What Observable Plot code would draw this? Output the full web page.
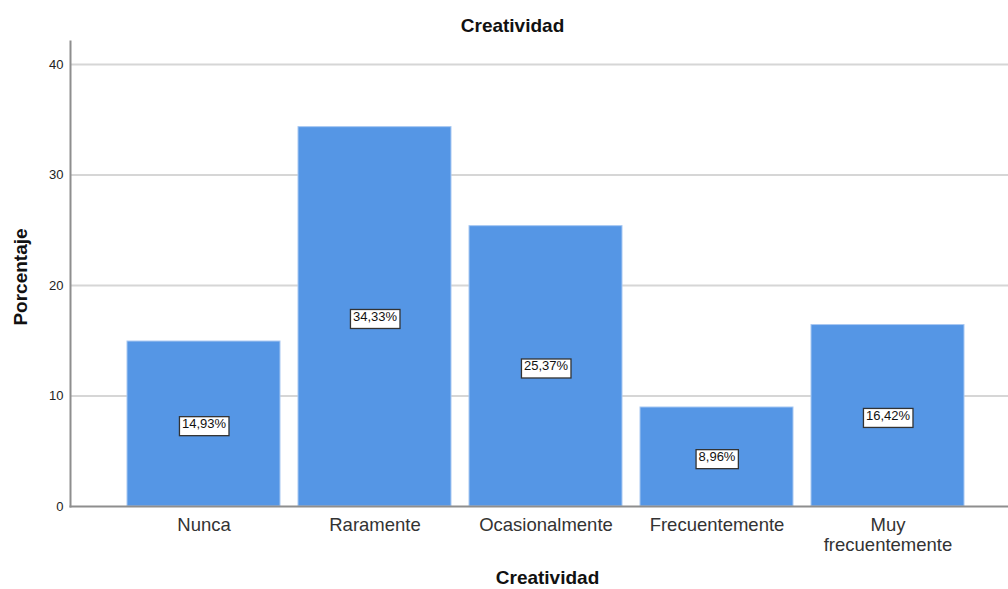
<!DOCTYPE html>
<html>
<head>
<meta charset="utf-8">
<script src="https://cdn.jsdelivr.net/npm/d3@7"></script>
<script src="https://cdn.jsdelivr.net/npm/@observablehq/plot@0.6"></script>
<style>
  html, body { margin: 0; padding: 0; background: #ffffff; }
  #chart svg { display: block; }
</style>
</head>
<body>
<div id="chart"></div>
<script>
// Categorías de respuesta y porcentaje de cada una
const categorias = ["Nunca", "Raramente", "Ocasionalmente", "Frecuentemente", "Muy frecuentemente"];
const porcentajes = [14.93, 34.33, 25.37, 8.96, 16.42];
const ticksY = [0, 10, 20, 30, 40];

const datos = categorias.map((c, i) => ({categoria: c, porcentaje: porcentajes[i]}));
const formatoPct = v => v.toFixed(2).replace(".", ",") + "%";
const fuente = "'Liberation Sans', Arial, Helvetica, sans-serif";

const grafico = Plot.plot({
  width: 1008,
  height: 589,
  marginTop: 41,
  marginBottom: 83,
  marginLeft: 70,
  marginRight: 0,
  style: {fontFamily: fuente, background: "#ffffff", color: "#222"},
  x: {domain: categorias, range: [70, 1021], paddingInner: 0.105, paddingOuter: 0.333, label: null},
  y: {domain: [0, 42.08], label: null},
  marks: [
    Plot.ruleY(ticksY.filter(d => d > 0), {stroke: "#d6d6d6", strokeWidth: 2}),
    Plot.barY(datos, {x: "categoria", y: "porcentaje", fill: "#5596e5", stroke: "#a8c8f2", strokeWidth: 1}),
    Plot.frame({anchor: "left", stroke: "#8e8e8e", strokeWidth: 2}),
    Plot.frame({anchor: "bottom", stroke: "#8e8e8e", strokeWidth: 2}),
    Plot.axisY({ticks: ticksY, tickSize: 0, tickPadding: 7, fontSize: 13, label: null, tickFormat: d => String(d)}),
    Plot.axisX({
      tickSize: 0, tickPadding: 10, fontSize: 18.5, lineHeight: 1.1, label: null, fill: "#333",
      tickFormat: d => d === "Muy frecuentemente" ? "Muy\nfrecuentemente" : d
    }),
    Plot.text(datos, {
      x: "categoria", y: d => d.porcentaje / 2, text: d => formatoPct(d.porcentaje),
      fontSize: 13, fill: "#111", className: "etiqueta"
    }),
    // Título y títulos de los ejes
    Plot.text(["Creatividad"], {frameAnchor: "top", dx: -27, dy: -23, fontSize: 19, fontWeight: "bold", fill: "#111"}),
    Plot.text(["Porcentaje"], {frameAnchor: "left", textAnchor: "middle", dx: -50, dy: 3, rotate: -90, fontSize: 19, fontWeight: "bold", fill: "#111"}),
    Plot.text(["Creatividad"], {frameAnchor: "bottom", dx: 8, dy: 77, fontSize: 19, fontWeight: "bold", fill: "#111"})
  ]
});

document.getElementById("chart").append(grafico);

// Recuadro blanco con borde detrás de cada etiqueta de valor
grafico.querySelectorAll("g.etiqueta text").forEach(t => {
  const b = t.getBBox();
  const r = document.createElementNS("http://www.w3.org/2000/svg", "rect");
  r.setAttribute("x", b.x - 2.5);
  r.setAttribute("y", b.y + 0.5);
  r.setAttribute("width", b.width + 5);
  r.setAttribute("height", b.height + 4);
  r.setAttribute("fill", "#ffffff");
  r.setAttribute("stroke", "#333333");
  r.setAttribute("stroke-width", 1.3);
  const tr = t.getAttribute("transform");
  if (tr) r.setAttribute("transform", tr);
  t.parentNode.insertBefore(r, t);
});
</script>
</body>
</html>
